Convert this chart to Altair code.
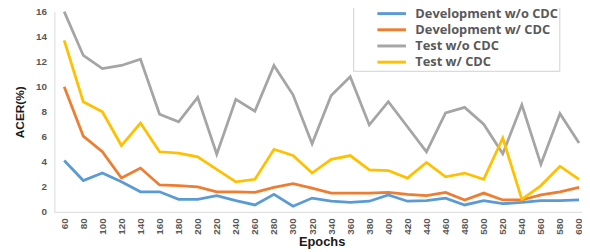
import altair as alt
import pandas as pd

epochs = list(range(60, 601, 20))

dev_wo_cdc = [4.1, 2.5, 3.1, 2.4, 1.6, 1.6, 1.0, 1.0, 1.3, 0.9, 0.55, 1.4, 0.45, 1.1,
              0.85, 0.75, 0.85, 1.35, 0.85, 0.9, 1.1, 0.55, 0.9, 0.65, 0.75, 0.9, 0.9, 0.95]
dev_w_cdc = [10.0, 6.05, 4.8, 2.7, 3.5, 2.15, 2.1, 2.0, 1.6, 1.6, 1.55, 1.95, 2.25, 1.9,
             1.5, 1.5, 1.5, 1.55, 1.4, 1.3, 1.55, 0.95, 1.5, 0.95, 0.95, 1.35, 1.6, 1.95]
test_wo_cdc = [16.0, 12.5, 11.45, 11.7, 12.2, 7.8, 7.2, 9.15, 4.6, 9.0, 8.05, 11.7, 9.35, 5.45,
               9.3, 10.8, 6.95, 8.8, 6.8, 4.8, 7.9, 8.35, 7.0, 4.65, 8.55, 3.8, 7.85, 5.5]
test_w_cdc = [13.7, 8.8, 8.0, 5.3, 7.1, 4.8, 4.7, 4.4, 3.4, 2.4, 2.6, 5.0, 4.5, 3.1,
              4.2, 4.5, 3.35, 3.3, 2.7, 3.95, 2.8, 3.1, 2.6, 5.9, 1.0, 2.1, 3.65, 2.6]

series_names = ["Development w/o CDC", "Development w/ CDC", "Test w/o CDC", "Test w/ CDC"]
series_colors = ["#5B9BD5", "#ED7D31", "#A5A5A5", "#FFC000"]
series_values = [dev_wo_cdc, dev_w_cdc, test_wo_cdc, test_w_cdc]

rows = []
for name, vals in zip(series_names, series_values):
    for e, v in zip(epochs, vals):
        rows.append({"Epochs": e, "ACER": v, "Series": name})
df = pd.DataFrame(rows)

chart = alt.Chart(df).mark_line(strokeWidth=2.8, strokeJoin="miter").encode(
    x=alt.X("Epochs:Q",
            scale=alt.Scale(domain=[49.66, 603.1], nice=False, zero=False),
            axis=alt.Axis(values=epochs, labelAngle=270, labelAlign="right", labelBaseline="middle",
                          labelPadding=6, ticks=False, grid=False, domainColor="#d9d9d9",
                          labelColor="#595959", labelFont="Liberation Sans", labelFontSize=10,
                          labelFontWeight="bold", title="Epochs", titleFont="Liberation Sans",
                          titleFontSize=13, titleFontWeight="bold", titleColor="#1a1a1a",
                          titleX=271, titleY=34, titleBaseline="alphabetic", labelOverlap=False)),
    y=alt.Y("ACER:Q",
            scale=alt.Scale(domain=[0, 16], nice=False),
            axis=alt.Axis(values=list(range(0, 17, 2)), ticks=False, grid=False,
                          domainColor="#d9d9d9", labelPadding=8, labelColor="#595959",
                          labelFont="Liberation Sans", labelFontSize=10, labelFontWeight="bold",
                          title="ACER(%)", titleFont="Liberation Sans", titleFontSize=12,
                          titleFontWeight="bold", titleColor="#1a1a1a", titleX=-35,
                          titleY=101.5, titleBaseline="middle", titleAngle=270)),
    color=alt.Color("Series:N",
                    scale=alt.Scale(domain=series_names, range=series_colors),
                    legend=alt.Legend(title=None, orient="none", legendX=303, legendY=-8,
                                      symbolType="M-2,0H2", symbolSize=210, symbolStrokeWidth=3,
                                      symbolOffset=29, labelOffset=15, labelFont="Open Sans",
                                      labelFontSize=13, labelFontWeight="bold",
                                      labelColor="#595959", strokeColor="#d0d0d0",
                                      fillColor="white", padding=1, rowPadding=0.4,
                                      labelLimit=400,
                                      labelExpr="datum.label + '\u00a0\u00a0\u00a0\u00a0\u00a0\u00a0\u00a0\u00a0\u00a0\u00a0'")),
    order=alt.Order("Epochs:Q"),
).properties(
    width=535, height=203,
    autosize=alt.AutoSizeParams(type="none"),
    padding={"left": 47, "top": 2, "right": 0, "bottom": 38},
).configure_view(stroke=None)

chart.save("out.html", embed_options={"renderer": "svg", "actions": False})
